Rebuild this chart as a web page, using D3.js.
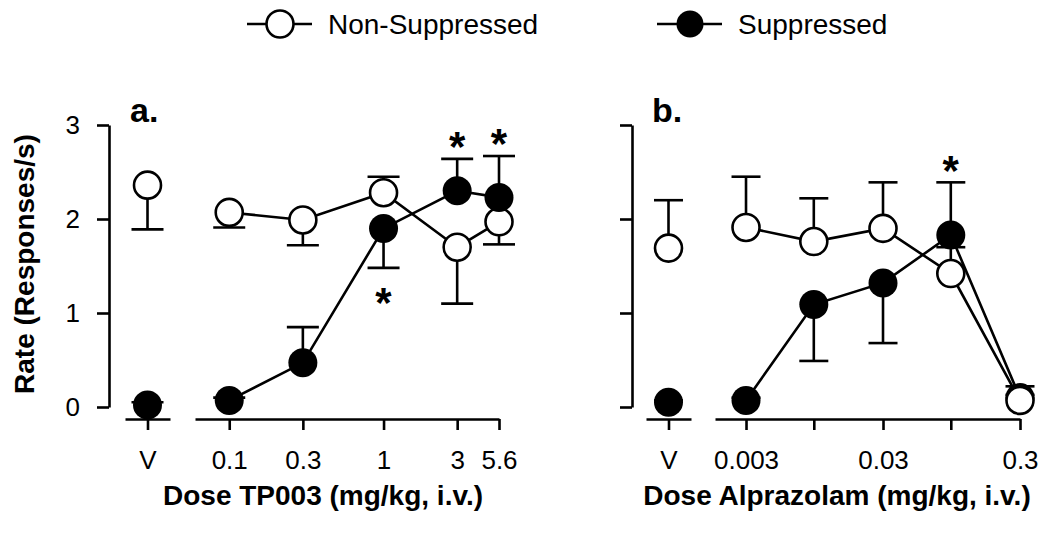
<!DOCTYPE html>
<html>
<head>
<meta charset="utf-8">
<script src="https://cdn.jsdelivr.net/npm/d3@7"></script>
<style>
  html, body { margin: 0; padding: 0; background: #fff; }
  svg { display: block; font-family: "Liberation Sans", Arial, Helvetica, sans-serif; }
</style>
</head>
<body>
<svg id="chart" width="1050" height="534"></svg>
<script>
// ---------------- DATA ----------------
const seriesNames = ["Non-Suppressed", "Suppressed"];
const yTickValues = [0, 1, 2, 3];

// Panel a: TP003
const dosesA = [0.1, 0.3, 1, 3, 5.6];
const tickLabelsA = ["0.1", "0.3", "1", "3", "5.6"];
const nonSuppA = [2.07, 1.99, 2.28, 1.70, 1.97];
const nonSuppErrA = [-0.16, -0.27, 0.17, -0.60, -0.24];   // sign = direction of the drawn bar
const suppA = [0.07, 0.47, 1.90, 2.30, 2.23];
const suppErrA = [0.03, 0.38, -0.42, 0.34, 0.44];
const vehNonSuppA = 2.36, vehNonSuppErrA = -0.47;
const vehSuppA = 0.02, vehSuppErrA = 0.03;
const sigA = [false, false, true, true, true];

// Panel b: Alprazolam (half-log doses)
const dosesB = [0.0032, 0.01, 0.032, 0.1, 0.32];
const tickLabelsB = ["0.003", "", "0.03", "", "0.3"];
const nonSuppB = [1.91, 1.76, 1.90, 1.42, 0.07];
const nonSuppErrB = [0.54, 0.46, 0.49, 0.28, 0.15];
const suppB = [0.07, 1.09, 1.32, 1.83, 0.10];
const suppErrB = [0.03, -0.60, -0.64, 0.56, 0.03];
const vehNonSuppB = 1.69, vehNonSuppErrB = 0.51;
const vehSuppB = 0.05, vehSuppErrB = 0.02;
const sigB = [false, false, false, true, false];

const vehicleLabel = ["V"];

// ---------------- LAYOUT ----------------
const svg = d3.select("#chart");
const yScale = d3.scaleLinear().domain([0, 3]).range([407, 125]);

const panels = [
  {
    letter: "a.", letterX: 130, axisX: 109, tickLabels: true,
    xDomain: [0.06, 5.6], xRange: [195, 499], vRange: [125, 170],
    doses: dosesA, tickLabels_: tickLabelsA,
    nonSupp: nonSuppA, nonSuppErr: nonSuppErrA, supp: suppA, suppErr: suppErrA,
    vehNS: vehNonSuppA, vehNSErr: vehNonSuppErrA, vehS: vehSuppA, vehSErr: vehSuppErrA,
    sig: sigA, capW: 32, order: ["ns", "s"],
    title: "Dose TP003 (mg/kg, i.v.)", titleX: 323
  },
  {
    letter: "b.", letterX: 652, axisX: 632, tickLabels: false,
    xDomain: [0.0019, 0.32], xRange: [715, 1020], vRange: [646, 691],
    doses: dosesB, tickLabels_: tickLabelsB,
    nonSupp: nonSuppB, nonSuppErr: nonSuppErrB, supp: suppB, suppErr: suppErrB,
    vehNS: vehNonSuppB, vehNSErr: vehNonSuppErrB, vehS: vehSuppB, vehSErr: vehSuppErrB,
    sig: sigB, capW: 29, order: ["s", "ns"],
    title: "Dose Alprazolam (mg/kg, i.v.)", titleX: 837
  }
];

const SW = 2.6;
const R = 13.5;
const TICK_FS = 26;

panels.forEach(p => {
  const g = svg.append("g");
  const x = d3.scaleLog().domain(p.xDomain).range(p.xRange);
  const xv = d3.scalePoint().domain(vehicleLabel).range(p.vRange).padding(0.5);

  // Y axis
  const yAxis = d3.axisLeft(yScale).tickValues(yTickValues).tickSize(12).tickSizeOuter(0)
    .tickFormat(p.tickLabels ? d3.format("d") : () => "");
  const ya = g.append("g").attr("transform", `translate(${p.axisX},0)`).call(yAxis);

  // X axes
  const xAxis = d3.axisBottom(x).tickValues(p.doses).tickSize(11).tickSizeOuter(0)
    .tickFormat((d, i) => p.tickLabels_[i]);
  const xa = g.append("g").attr("transform", "translate(0,419)").call(xAxis);
  const vAxis = d3.axisBottom(xv).tickSize(11).tickSizeOuter(0);
  const va = g.append("g").attr("transform", "translate(0,419)").call(vAxis);

  [ya, xa, va].forEach(a => {
    a.select(".domain").attr("stroke", "#000").attr("stroke-width", SW);
    a.selectAll(".tick line").attr("stroke", "#000").attr("stroke-width", SW);
    a.selectAll(".tick text").attr("fill", "#000").attr("font-size", TICK_FS)
      .attr("font-family", "'Liberation Sans', Arial, sans-serif");
  });
  ya.selectAll(".tick text").attr("x", -29);
  xa.selectAll(".tick text").attr("y", 32);
  va.selectAll(".tick text").attr("y", 32);

  // titles
  g.append("text").attr("x", p.titleX).attr("y", 505).attr("text-anchor", "middle")
    .attr("font-size", 28).attr("font-weight", "bold").text(p.title);
  g.append("text").attr("x", p.letterX).attr("y", 122)
    .attr("font-size", 34).attr("font-weight", "bold").text(p.letter);

  const series = {
    ns: { vals: p.nonSupp, err: p.nonSuppErr, veh: p.vehNS, vehErr: p.vehNSErr, fill: "#fff" },
    s: { vals: p.supp, err: p.suppErr, veh: p.vehS, vehErr: p.vehSErr, fill: "#000" }
  };

  // error bars (drawn beneath)
  p.order.forEach(k => {
    const s = series[k];
    const pts = p.doses.map((d, i) => ({ cx: x(d), v: s.vals[i], e: s.err[i] }));
    pts.push({ cx: xv("V"), v: s.veh, e: s.vehErr });
    pts.forEach(pt => {
      const y0 = yScale(pt.v), y1 = yScale(pt.v + pt.e);
      g.append("line").attr("x1", pt.cx).attr("x2", pt.cx).attr("y1", y0).attr("y2", y1)
        .attr("stroke", "#000").attr("stroke-width", SW);
      g.append("line").attr("x1", pt.cx - p.capW / 2).attr("x2", pt.cx + p.capW / 2)
        .attr("y1", y1).attr("y2", y1).attr("stroke", "#000").attr("stroke-width", SW);
    });
  });

  // lines
  const lineGen = d3.line().x(d => x(d[0])).y(d => yScale(d[1]));
  p.order.forEach(k => {
    const s = series[k];
    g.append("path").datum(p.doses.map((d, i) => [d, s.vals[i]]))
      .attr("d", lineGen).attr("fill", "none").attr("stroke", "#000").attr("stroke-width", SW);
  });

  // markers
  p.order.forEach(k => {
    const s = series[k];
    const pts = p.doses.map((d, i) => [x(d), s.vals[i]]);
    pts.push([xv("V"), s.veh]);
    g.selectAll(null).data(pts).enter().append("circle")
      .attr("cx", d => d[0]).attr("cy", d => yScale(d[1]))
      .attr("r", k === "s" ? R + 1 : R)
      .attr("fill", s.fill).attr("stroke", "#000").attr("stroke-width", k === "s" ? 0 : SW);
  });

  // significance asterisks (placed beyond the suppressed error bar)
  p.sig.forEach((isSig, i) => {
    if (!isSig) return;
    const v = p.supp[i], e = p.suppErr[i];
    const end = yScale(v + e);
    const cy = e >= 0 ? end - 22 : end + 25;
    g.append("text").attr("x", x(p.doses[i])).attr("y", cy + 0.58 * 42)
      .attr("text-anchor", "middle").attr("font-size", 42).attr("font-weight", "bold").text("*");
  });
});

// Y axis label
svg.append("text").attr("transform", "translate(34,264) rotate(-90)")
  .attr("text-anchor", "middle").attr("font-size", 28).attr("font-weight", "bold")
  .text("Rate (Responses/s)");

// Legend
const legendX = [247, 657];
const legend = svg.append("g");
seriesNames.forEach((name, i) => {
  const lx = legendX[i];
  legend.append("line").attr("x1", lx).attr("x2", lx + 65).attr("y1", 24).attr("y2", 24)
    .attr("stroke", "#000").attr("stroke-width", SW);
  legend.append("circle").attr("cx", lx + 33).attr("cy", 24).attr("r", R)
    .attr("fill", i === 0 ? "#fff" : "#000").attr("stroke", "#000").attr("stroke-width", i === 0 ? SW : 0);
  legend.append("text").attr("x", lx + 81).attr("y", 34).attr("font-size", 28).text(name);
});
</script>
</body>
</html>
